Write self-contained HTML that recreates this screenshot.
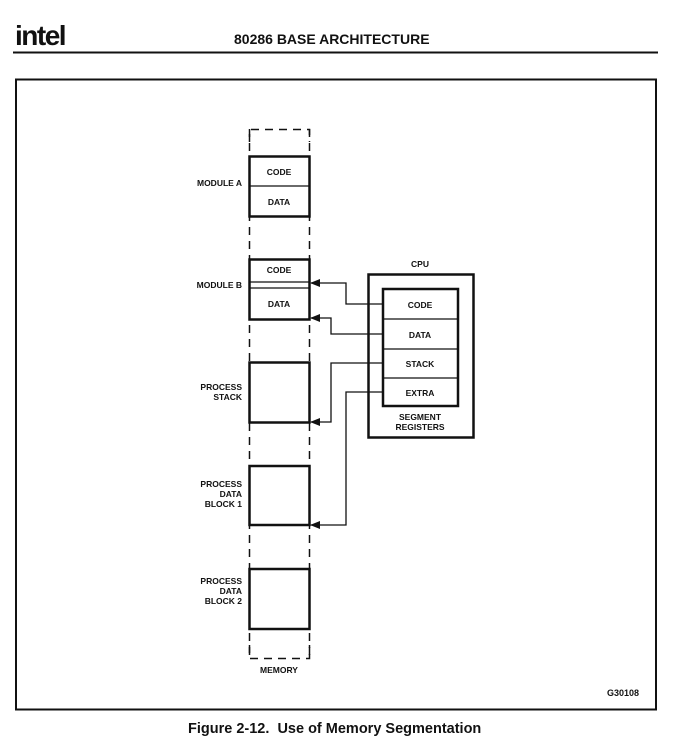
<!DOCTYPE html>
<html><head><meta charset="utf-8"><style>
html,body{margin:0;padding:0;background:#fff;}
svg{display:block;}
text{font-family:"Liberation Sans",sans-serif;font-weight:bold;fill:#111;}
</style></head><body>
<svg width="674" height="744" viewBox="0 0 674 744" xmlns="http://www.w3.org/2000/svg">
<defs><marker id="a" markerWidth="10" markerHeight="8" refX="9" refY="4" orient="auto" markerUnits="userSpaceOnUse"><path d="M0,0 L10,4 L0,8 Z" fill="#111"/></marker></defs>
<text x="15" y="45" font-size="28" style="letter-spacing:-1.5px">intel</text>
<text x="234" y="44" font-size="14">80286 BASE ARCHITECTURE</text>
<line x1="13" y1="52.5" x2="658" y2="52.5" stroke="#111" stroke-width="2"/>
<rect x="16" y="79.5" width="640" height="630" fill="none" stroke="#111" stroke-width="2"/>
<g stroke="#111" stroke-width="1.5" fill="none" stroke-dasharray="8,6">
<path d="M249.5,142 V129.5 H309.5 V142"/>
<path d="M249.5,645 V658.5 H309.5 V645"/>
<line x1="249.5" y1="129" x2="249.5" y2="658"/>
<line x1="309.5" y1="129" x2="309.5" y2="658"/>
</g>
<g stroke="#111" stroke-width="2.5" fill="#fff">
<rect x="249.5" y="156.5" width="60" height="60"/>
<rect x="249.5" y="259.5" width="60" height="60"/>
<rect x="249.5" y="362.5" width="60" height="60"/>
<rect x="249.5" y="466" width="60" height="59"/>
<rect x="249.5" y="569" width="60" height="60"/>
<rect x="368.5" y="274.5" width="105" height="163"/>
<rect x="383" y="289" width="75" height="117"/>
</g>
<g stroke="#111" stroke-width="1.3">
<line x1="249" y1="186" x2="310" y2="186"/>
<line x1="249" y1="282" x2="310" y2="282"/>
<line x1="249" y1="288" x2="310" y2="288"/>
<line x1="383" y1="319" x2="458" y2="319"/>
<line x1="383" y1="349" x2="458" y2="349"/>
<line x1="383" y1="378" x2="458" y2="378"/>
</g>
<g stroke="#111" stroke-width="1.3" fill="none">
<polyline points="383,304 346,304 346,283 311,283" marker-end="url(#a)"/>
<polyline points="383,334 331,334 331,318 311,318" marker-end="url(#a)"/>
<polyline points="383,363 331,363 331,422 311,422" marker-end="url(#a)"/>
<polyline points="383,392 346,392 346,525 311,525" marker-end="url(#a)"/>
</g>
<g font-size="8.5" text-anchor="middle">
<text x="279" y="175">CODE</text><text x="279" y="205">DATA</text>
<text x="279" y="273">CODE</text><text x="279" y="307">DATA</text>
<text x="420" y="308">CODE</text><text x="420" y="338">DATA</text>
<text x="420" y="367">STACK</text><text x="420" y="396">EXTRA</text>
<text x="420" y="420">SEGMENT</text><text x="420" y="430">REGISTERS</text>
<text x="420" y="267">CPU</text>
<text x="279" y="673">MEMORY</text>
</g>
<g font-size="8.5" text-anchor="end">
<text x="242" y="186">MODULE A</text>
<text x="242" y="288">MODULE B</text>
<text x="242" y="390">PROCESS</text><text x="242" y="400">STACK</text>
<text x="242" y="487">PROCESS</text><text x="242" y="497">DATA</text><text x="242" y="507">BLOCK 1</text>
<text x="242" y="584">PROCESS</text><text x="242" y="594">DATA</text><text x="242" y="604">BLOCK 2</text>
</g>
<text x="639" y="696" font-size="9" text-anchor="end" font-weight="normal">G30108</text>
<text x="188" y="733" font-size="14.5" style="white-space:pre;letter-spacing:0px">Figure 2-12.  Use of Memory Segmentation</text>
</svg>
</body></html>
